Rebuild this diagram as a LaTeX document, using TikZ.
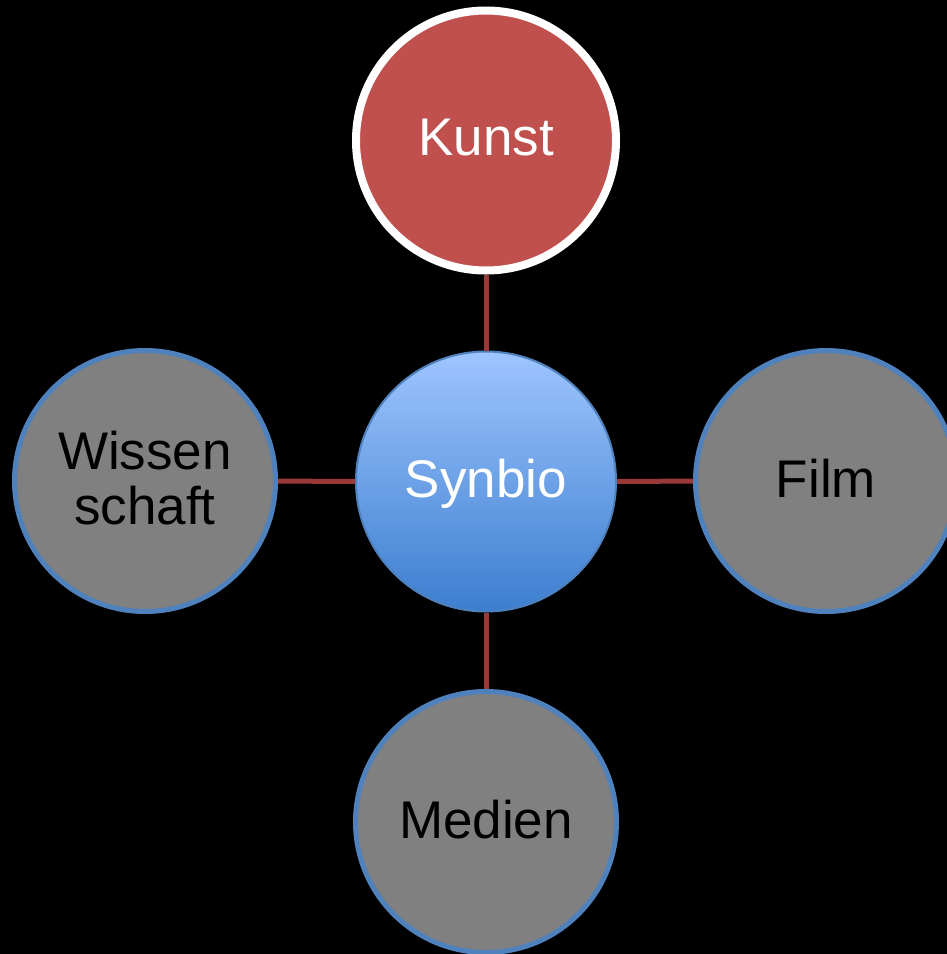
\documentclass[tikz,border=0pt]{standalone}
\usepackage{fontspec}
\setmainfont{Liberation Sans}
\begin{document}
\begin{tikzpicture}[x=1pt,y=-1pt,
  bubble/.style={circle,inner sep=0pt,align=center,text depth=6pt,font=\fontsize{53}{55}\selectfont},
  graybub/.style={bubble,fill=graybg,draw=blueedge,line width=5pt,minimum size=261pt,text=black},
  link/.style={draw=linkred,line width=5pt}]
\definecolor{graybg}{HTML}{808080}
\definecolor{blueedge}{HTML}{4F81BD}
\definecolor{kunstred}{HTML}{C0504D}
\definecolor{linkred}{HTML}{993A38}
\definecolor{syntop}{HTML}{9EC5FF}
\definecolor{synbot}{HTML}{3C7ECF}
\fill[black] (0,0) rectangle (947,954);
\useasboundingbox (0,0) rectangle (947,954);
\node[bubble,fill=kunstred,draw=white,line width=8pt,minimum size=260pt,text=white] (kunst) at (486,140.5) {Kunst};
\node[bubble,top color=syntop,bottom color=synbot,draw=blueedge,line width=2pt,minimum size=260pt,text=white] (syn) at (486,481.5) {Synbio};
\node[graybub] (wiss) at (145,481) {Wissen\\schaft};
\node[graybub] (film) at (826,481) {Film};
\node[graybub] (medien) at (486,822) {Medien};
\draw[link] (syn) -- (kunst);
\draw[link] (syn) -- (wiss);
\draw[link] (syn) -- (film);
\draw[link] (syn) -- (medien);
\end{tikzpicture}
\end{document}
